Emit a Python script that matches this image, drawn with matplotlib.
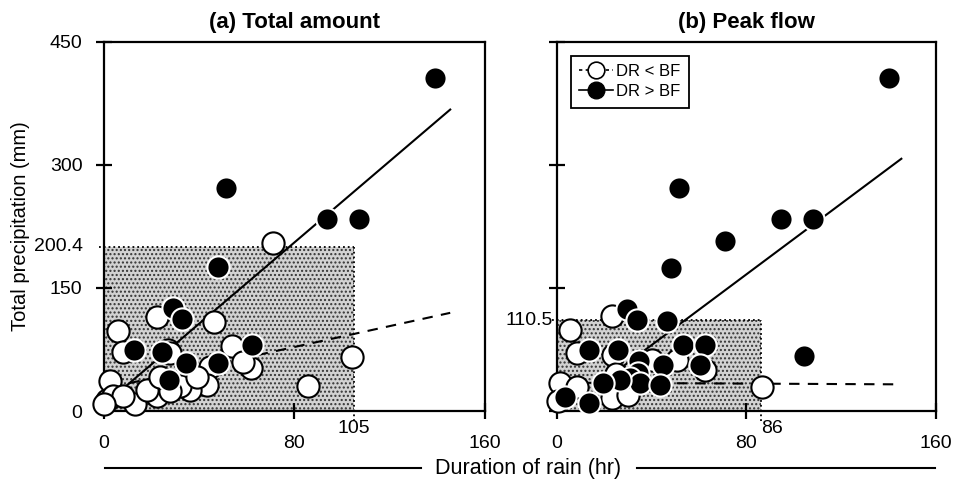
import numpy as np
import matplotlib
matplotlib.use("Agg")
import matplotlib.pyplot as plt
from matplotlib.patches import Rectangle
from matplotlib.lines import Line2D

plt.rcParams['font.family'] = ['Liberation Sans', 'DejaVu Sans']
plt.rcParams['hatch.linewidth'] = 1.0

# ---- data ----
# (a) total amount
a_fill_x = [139, 51.1, 93.8, 107, 47.8, 29.1, 32.9, 62.0, 12.7, 24.4, 34.5, 47.8, 27.2]
a_fill_y = [406, 272, 234, 234, 175, 126, 112, 80, 74, 72, 58, 58, 38]
a_open_x = [70.9, 5.7, 22.1, 46.4, 8.1, 53.6, 27.0, 104.3, 61.8, 58.5, 44.5, 85.8, 43.1,
            36.1, 32.0, 22.1, 13.0, 2.5, 1.1, 3.9, 8.1, 18.0, 27.7, 0.0, 23.5, 39.0, 27.7]
a_open_y = [205, 98, 115, 108, 72, 79, 74, 66, 52, 60, 54, 30, 32,
            26, 30, 18, 9, 36, 14, 18, 18, 26, 24, 9, 42, 42, 71]
a_solid_x = [5, 145.4]
a_solid_y = [19.9, 367.6]
a_dash_x = [3, 145.4]
a_dash_y = [29.1, 119.7]
a_thr_x, a_thr_y = 105, 200.4

# (b) peak flow
b_fill_x = [140.1, 51.5, 94.4, 107.9, 70.9, 48.1, 104.4, 29.7, 33.6, 46.6, 13.5, 25.9, 53.3,
            62.4, 60.3, 44.8, 34.8, 34.4, 30.8, 35.0, 26.6, 19.3, 43.5, 13.5, 3.4]
b_fill_y = [406.5, 272.4, 233.7, 233.7, 206.7, 174.9, 67.0, 123.8, 111.5, 109.5, 74.8, 74.8, 80.9,
            80.9, 56.4, 56.4, 60.4, 46.2, 40.0, 33.9, 38.0, 33.9, 31.9, 9.4, 17.5]
b_open_x = [86.4, 5.5, 23.1, 8.3, 23.8, 62.4, 50.5, 1.3, 23.1, 30.1, 8.3, 0.5, 40.0, 25.0]
b_open_y = [29, 99.3, 115.6, 70.7, 68.6, 50.2, 62.5, 33.9, 15.6, 19.6, 29.8, 12, 62, 45]
b_solid_x = [20, 145.4]
b_solid_y = [37.4, 307.6]
b_dash_x = [3, 145.4]
b_dash_y = [34.5, 32.5]
b_thr_x, b_thr_y = 86, 110.5

fig = plt.figure(figsize=(9.56, 4.82), dpi=100)
axa = fig.add_axes([0.1088, 0.1473, 0.3985, 0.7656])
axb = fig.add_axes([0.5826, 0.1473, 0.3964, 0.7656])


def panel(ax, fx, fy, ox, oy, sx, sy, dx, dy, tx, ty, title, thr_ha):
    ax.set_xlim(0, 160)
    ax.set_ylim(0, 450)
    # shaded region
    ax.add_patch(Rectangle((0, 0), tx, ty, facecolor='#d2d2d2', edgecolor='#333333',
                           hatch='....', lw=0, zorder=1))
    ax.plot([-2, tx], [ty, ty], ls=':', color='black', lw=1.3, clip_on=False, zorder=2)
    ax.plot([tx, tx], [-12, ty], ls=':', color='black', lw=1.3, clip_on=False, zorder=2)
    # fit lines
    ax.plot(dx, dy, ls=(0, (5, 4)), color='black', lw=1.5, zorder=3)
    ax.plot(sx, sy, ls='-', color='black', lw=1.5, zorder=3)
    # points
    ax.plot(ox, oy, 'o', ms=16, mfc='white', mec='black', mew=1.5, ls='none',
            clip_on=False, zorder=4)
    ax.plot(fx, fy, 'o', ms=16, mfc='black', mec='white', mew=1.5, ls='none',
            clip_on=False, zorder=5)
    for s in ax.spines.values():
        s.set_linewidth(1.6)
    ax.tick_params(direction='inout', length=11, width=1.6, labelsize=14)
    ax.tick_params(axis='x', pad=12)
    ax.tick_params(axis='y', pad=10)
    ax.set_xticks([0, 80, 160])
    ax.set_yticks([0, 150, 300, 450])
    ax.text(tx, -0.025, str(tx), transform=ax.get_xaxis_transform(),
            ha=thr_ha, va='top', fontsize=14)
    ax.set_title(title, fontsize=16, fontweight='bold', pad=10)


panel(axa, a_fill_x, a_fill_y, a_open_x, a_open_y, a_solid_x, a_solid_y,
      a_dash_x, a_dash_y, a_thr_x, a_thr_y, '(a) Total amount', 'center')
panel(axb, b_fill_x, b_fill_y, b_open_x, b_open_y, b_solid_x, b_solid_y,
      b_dash_x, b_dash_y, b_thr_x, b_thr_y, '(b) Peak flow', 'left')

axa.text(-0.055, a_thr_y, '200.4', transform=axa.get_yaxis_transform(),
         ha='right', va='center', fontsize=14)
axb.set_yticklabels([])
axb.text(-0.012, b_thr_y, '110.5', transform=axb.get_yaxis_transform(),
         ha='right', va='center', fontsize=14)
axa.set_ylabel('Total precipitation (mm)', fontsize=14.5, labelpad=14)

handles = [Line2D([], [], ls=(0, (2, 2)), color='black', lw=1.2, marker='o', ms=12,
                  mfc='white', mec='black', mew=1.2),
           Line2D([], [], ls='-', color='black', lw=1.2, marker='o', ms=12,
                  mfc='black', mec='black')]
leg = axb.legend(handles, ['DR < BF', 'DR > BF'], loc='upper left', fontsize=12,
                 handlelength=2.0, handletextpad=0.2, fancybox=False, framealpha=1,
                 edgecolor='black', borderpad=0.5, labelspacing=0.3,
                 bbox_to_anchor=(0.015, 0.985))
leg.get_frame().set_linewidth(1.3)

# shared x label with rules either side
fig.text(0.552, 0.029, 'Duration of rain (hr)', ha='center', va='center', fontsize=15.5)
fig.add_artist(Line2D([0.110, 0.440], [0.029, 0.029], color='black', lw=1.5))
fig.add_artist(Line2D([0.666, 0.978], [0.029, 0.029], color='black', lw=1.5))

fig.savefig('out.png', dpi=100)
